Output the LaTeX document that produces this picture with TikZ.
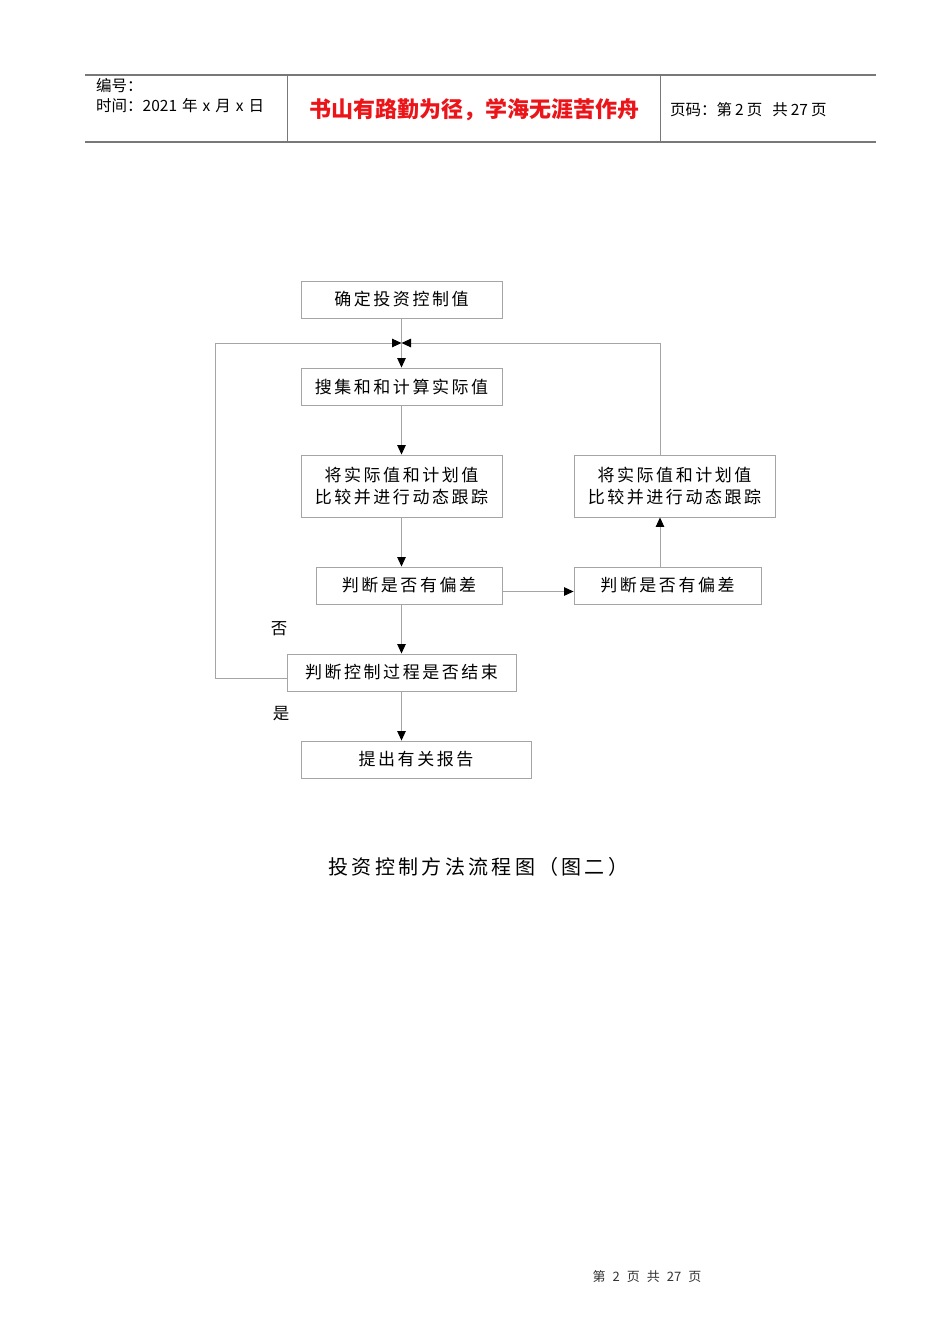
\documentclass[tikz,border=0pt]{standalone}
\usepackage{fontspec}
\setmainfont{Liberation Sans}
\newfontfamily\cjk[LetterSpace=15]{Noto Sans CJK SC}
\newfontfamily\cjkcap[LetterSpace=16.5]{Noto Sans CJK SC}
\newfontfamily\cjkplain{Noto Sans CJK SC}
\usetikzlibrary{arrows.meta}
\definecolor{boxgray}{RGB}{165,165,165}
\definecolor{hdrgray}{RGB}{120,120,120}
\definecolor{hdrred}{RGB}{235,20,25}
\begin{document}
\begin{tikzpicture}[x=1pt,y=-1pt,
  box/.style={draw=boxgray, line width=0.9pt, inner sep=0pt, align=center, text=black,
    font=\cjk\fontsize{17}{22}\selectfont},
  conn/.style={draw=boxgray, line width=0.9pt},
  tip/.style={-{Triangle[length=9.5pt,width=8.5pt,color=black]}},
  hdr/.style={draw=hdrgray, line width=1.6pt},
  vsep/.style={draw=hdrgray, line width=0.9pt},
  htext/.style={anchor=west, inner sep=0pt, font=\cjkplain\fontsize{15.5}{17}\selectfont},
  lab/.style={inner sep=0pt, font=\cjkplain\fontsize{16.5}{18}\selectfont}]
\useasboundingbox (0,0) rectangle (950,1344);
\fill[white] (0,0) rectangle (950,1344);

% header
\draw[hdr] (85,75) -- (876,75);
\draw[hdr] (85,142) -- (876,142);
\draw[vsep] (287,75) -- (287,142);
\draw[vsep] (660,75) -- (660,142);
\node[htext] (h1) at (96,86) {编号：};
\node[htext] (h2) at (96,106) {时间：2021\hspace{5pt}年\hspace{5pt}x\hspace{5pt}月\hspace{5pt}x\hspace{5pt}日};
\node[inner sep=0pt, text=hdrred, font=\cjkplain\bfseries\fontsize{22}{24}\selectfont] (h3) at (474,110) {书山有路勤为径，学海无涯苦作舟};
\node[htext] (h4) at (670,110) {页码：第\hspace{3pt}2\hspace{3pt}页\hspace{10pt}共\hspace{3pt}27\hspace{3pt}页};

% boxes
\node[box, minimum width=201pt, minimum height=37pt] (b1) at (401.5,299.5) {确定投资控制值};
\node[box, minimum width=201pt, minimum height=37pt] (b2) at (401.5,386.5) {搜集和和计算实际值};
\node[box, minimum width=201pt, minimum height=62pt] (b3) at (401.5,486) {将实际值和计划值\\比较并进行动态跟踪};
\node[box, minimum width=186pt, minimum height=37pt] (b4) at (409,585.5) {判断是否有偏差};
\node[box, minimum width=187pt, minimum height=37pt] (b5) at (667.5,585.5) {判断是否有偏差};
\node[box, minimum width=201pt, minimum height=62pt] (b6) at (674.5,486) {将实际值和计划值\\比较并进行动态跟踪};
\node[box, minimum width=229pt, minimum height=37pt] (b7) at (401.5,672.5) {判断控制过程是否结束};
\node[box, minimum width=230pt, minimum height=37pt] (b8) at (416,759.5) {提出有关报告};

\coordinate (j) at (401.5,343);
\coordinate (lc) at (215,343);

% connectors
\draw[conn,tip] (b1.south) -- (b2.north);
\draw[conn,tip] ([yshift=-6pt]b7.west) -| (lc) -- (j);
\draw[conn,tip] ([xshift=-14.5pt]b6.north) |- (j);
\draw[conn,tip] (b2.south) -- (b3.north);
\draw[conn,tip] (b3.south) -- (b3.south |- b4.north);
\draw[conn,tip] (b3.south |- b4.south) -- (b7.north);
\draw[conn,tip] (b7.south) -- (b7.south |- b8.north);
\draw[conn,tip] ([yshift=-6pt]b4.east) -- ([yshift=-6pt]b5.west);
\draw[conn,tip] ([xshift=-7.5pt]b5.north) -- ([xshift=-14.5pt]b6.south);

\node[lab] (no) at (279,629) {否};
\node[lab] (yes) at (281,714) {是};

% caption
\node[inner sep=0pt, font=\cjkcap\fontsize{20}{22}\selectfont] (cap) at (478.5,867) {投资控制方法流程图（图二）};

% footer
\node[inner sep=0pt, text=black!80, font=\cjkplain\fontsize{13}{15}\selectfont] (ft) at (647,1277) {第\hspace{7pt}2\hspace{7pt}页\hspace{7pt}共\hspace{7pt}27\hspace{7pt}页};
\end{tikzpicture}
\end{document}
